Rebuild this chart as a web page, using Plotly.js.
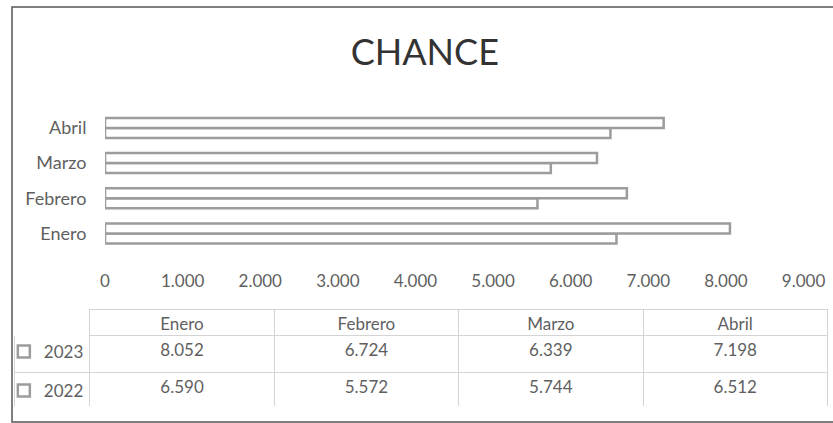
<!DOCTYPE html>
<html>
<head>
<meta charset="utf-8">
<script src="https://cdn.plot.ly/plotly-3.0.1.min.js"></script>
<style>
  html, body { margin: 0; padding: 0; background: #fff; }
  #plot { width: 833px; height: 423px; }
</style>
</head>
<body>
<div id="plot"></div>
<script>
const months = ["Enero", "Febrero", "Marzo", "Abril"];
const years = ["2023", "2022"];
const values2023 = [8052, 6724, 6339, 7198];
const values2022 = [6590, 5572, 5744, 6512];

const font = "Lato, 'Open Sans', sans-serif";
const textGray = "#5f5f5f";
const barLine = "#9c9c9c";

// 8052 -> "8.052"
function fmt(n) {
  return String(n).replace(/\B(?=(\d{3})+(?!\d))/g, ".");
}

function barTrace(name, values, rank) {
  return {
    type: "bar",
    orientation: "h",
    name: name,
    y: months,
    x: values,
    marker: { color: "#ffffff", line: { color: barLine, width: 2.5 } },
    legendgroup: name,
    legendrank: rank,
    hoverinfo: "x+y"
  };
}

// 2022 first so it sits below 2023 in each group; legend shows 2023 first
const bars = [barTrace(years[1], values2022, 2), barTrace(years[0], values2023, 1)];

const tableTrace = {
  type: "table",
  domain: { x: [0.003, 1], y: [0.036, 0.272] },
  columnwidth: [76, 186, 186, 186, 186],
  header: {
    values: [""].concat(months),
    height: 26,
    align: "center",
    fill: { color: "#ffffff" },
    line: { color: ["#ffffff", "#d4d4d4", "#d4d4d4", "#d4d4d4", "#d4d4d4"], width: 1 },
    font: { family: font, size: 17, color: textGray }
  },
  cells: {
    values: [[" ", " "]].concat(months.map((m, i) => [fmt(values2023[i]), fmt(values2022[i])])),
    height: 37,
    align: "center",
    fill: { color: "#ffffff" },
    line: { color: "#d4d4d4", width: 1 },
    font: { family: font, size: 17, color: textGray }
  }
};

const layout = {
  width: 833,
  height: 423,
  margin: { l: 12, r: 5, t: 7, b: 1 },
  paper_bgcolor: "#ffffff",
  plot_bgcolor: "#ffffff",
  separators: ",.",
  barmode: "group",
  bargap: 0.43,
  bargroupgap: 0,
  title: {
    text: "CHANCE",
    xref: "container",
    yref: "container",
    x: 0.51,
    y: 0.875,
    xanchor: "center",
    yanchor: "middle",
    font: { family: font, size: 36, color: "#333333" }
  },
  xaxis: {
    domain: [0.114, 0.97],
    range: [0, 9000],
    dtick: 1000,
    tickformat: ",d",
    showgrid: false,
    zeroline: false,
    showline: false,
    ticks: "outside",
    ticklen: 15,
    tickcolor: "rgba(0,0,0,0)",
    tickfont: { family: font, size: 17, color: textGray },
    fixedrange: true
  },
  yaxis: {
    domain: [0.412, 0.751],
    categoryorder: "array",
    categoryarray: months,
    showgrid: false,
    zeroline: false,
    showline: false,
    ticks: "outside",
    ticklen: 14,
    tickcolor: "rgba(0,0,0,0)",
    tickfont: { family: font, size: 18, color: textGray },
    fixedrange: true
  },
  showlegend: true,
  legend: {
    x: -0.01,
    y: 0.122,
    xanchor: "left",
    yanchor: "middle",
    traceorder: "grouped",
    tracegroupgap: 14,
    itemwidth: 30,
    bgcolor: "rgba(0,0,0,0)",
    font: { family: font, size: 17, color: textGray }
  },
  shapes: [{
    type: "rect",
    xref: "paper",
    yref: "paper",
    x0: 0, x1: 1.02, y0: 0, y1: 1,
    line: { color: "#555555", width: 1.5 },
    layer: "above"
  }]
};

Plotly.newPlot("plot", bars.concat([tableTrace]), layout, { displayModeBar: false, staticPlot: true });
</script>
</body>
</html>
